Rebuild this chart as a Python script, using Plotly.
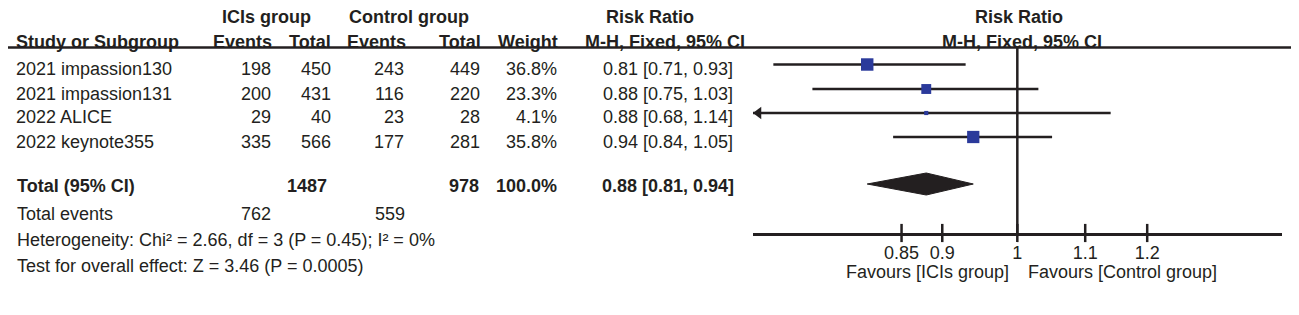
import math
import plotly.graph_objects as go

# ---------------- data ----------------
studies = ["2021 impassion130", "2021 impassion131", "2022 ALICE", "2022 keynote355"]
ici_events = [198, 200, 29, 335]
ici_total = [450, 431, 40, 566]
ctl_events = [243, 116, 23, 177]
ctl_total = [449, 220, 28, 281]
weights = [36.8, 23.3, 4.1, 35.8]
rr = [0.81, 0.88, 0.88, 0.94]
rr_lo = [0.71, 0.75, 0.68, 0.84]
rr_hi = [0.93, 1.03, 1.14, 1.05]

total_label = "Total (95% CI)"
total_ici_total = 1487
total_ctl_total = 978
total_weight = 100.0
total_rr, total_lo, total_hi = 0.88, 0.81, 0.94
events_label = "Total events"
total_ici_events = 762
total_ctl_events = 559
heterogeneity = "Heterogeneity: Chi² = 2.66, df = 3 (P = 0.45); I² = 0%"
overall = "Test for overall effect: Z = 3.46 (P = 0.0005)"

tick_vals = [0.85, 0.9, 1, 1.1, 1.2]
tick_labels = ["0.85", "0.9", "1", "1.1", "1.2"]
x_min, x_max = 0.69, 1.45
favours_left = "Favours [ICIs group]"
favours_right = "Favours [Control group]"

# ---------------- layout constants (page pixels) ----------------
PAGE_W, PAGE_H = 1299, 315
OX, OY = 8, 8                    # default body margin of the html page
W, H = PAGE_W - OX, PAGE_H - OY  # figure size
FONT = "Arial, Liberation Sans, Helvetica, sans-serif"
FS = 18
TXT = "#231f20"
BLUE = "#2b3a9b"
AXIS_Y = 233
HEAD_Y = 47.5
ROW_Y = [69, 93.5, 117.5, 141.5]
MARK_DY = -4.5
TOTAL_Y = 186
DIAMOND_Y = 184
EVENTS_Y = 214
HET_Y = 240
TEST_Y = 266
H1_Y = 17
H2_Y = 42
FAV_Y = 272
AX_LEFT, AX_RIGHT = 753, 1282
ARROW_SIZE = 11

fig = go.Figure()

mark_y = [y + MARK_DY for y in ROW_Y]
px_per_log = (AX_RIGHT - AX_LEFT) / (math.log10(x_max) - math.log10(x_min))
arrow_shift = 10 ** ((ARROW_SIZE / 2) / px_per_log)  # so the arrow tip sits at the axis end

# CI lines (clipped at axis range, arrow when clipped)
cx, cy = [], []
arrows_x, arrows_y = [], []
for lo, hi, y in zip(rr_lo, rr_hi, mark_y):
    a = max(lo, x_min)
    b = min(hi, x_max)
    cx += [a, b, None]
    cy += [y, y, None]
    if lo < x_min:
        arrows_x.append(x_min * arrow_shift)
        arrows_y.append(y)
fig.add_trace(go.Scatter(x=cx, y=cy, mode="lines",
                         line=dict(color=TXT, width=2.5), hoverinfo="skip",
                         cliponaxis=False))
if arrows_x:
    fig.add_trace(go.Scatter(x=arrows_x, y=arrows_y, mode="markers",
                             marker=dict(symbol="triangle-left", size=ARROW_SIZE,
                                         color=TXT, opacity=1),
                             cliponaxis=False, hoverinfo="skip"))

# vertical line of no effect
fig.add_trace(go.Scatter(x=[1, 1], y=[HEAD_Y, AXIS_Y], mode="lines",
                         line=dict(color=TXT, width=2.5), hoverinfo="skip",
                         cliponaxis=False))

# squares, size ~ sqrt(weight)
fig.add_trace(go.Scatter(x=rr, y=mark_y, mode="markers",
                         marker=dict(symbol="square",
                                     size=[2.05 * math.sqrt(w) for w in weights],
                                     color=BLUE, opacity=1, line=dict(width=0)),
                         hoverinfo="skip"))

# diamond
dh = 11
fig.add_trace(go.Scatter(x=[total_lo, total_rr, total_hi, total_rr, total_lo],
                         y=[DIAMOND_Y, DIAMOND_Y - dh, DIAMOND_Y, DIAMOND_Y + dh, DIAMOND_Y],
                         mode="lines", fill="toself", fillcolor=TXT,
                         line=dict(color=TXT, width=1), hoverinfo="skip"))

# tick marks crossing the axis line
fig.add_trace(go.Scatter(x=tick_vals, y=[AXIS_Y] * len(tick_vals), mode="markers",
                         marker=dict(symbol="line-ns", size=13, opacity=1,
                                     line=dict(color=TXT, width=2.5)),
                         cliponaxis=False, hoverinfo="skip"))

anns = []


def ann(text, px, py, anchor="left", bold=False, size=FS):
    if bold:
        text = "<b>" + text + "</b>"
    anns.append(dict(text=text, x=(px - OX) / W, y=1 - (py - OY) / H,
                     xref="paper", yref="paper",
                     xanchor=anchor, yanchor="middle", showarrow=False,
                     font=dict(family=FONT, size=size, color=TXT)))


# headers
ann("ICIs group", 266, H1_Y, "center", True)
ann("Control group", 409, H1_Y, "center", True)
ann("Risk Ratio", 650, H1_Y, "center", True)
ann("Risk Ratio", 1019, H1_Y, "center", True)
ann("Study or Subgroup", 14, H2_Y, "left", True)
ann("Events", 274, H2_Y, "right", True)
ann("Total", 333, H2_Y, "right", True)
ann("Events", 408, H2_Y, "right", True)
ann("Total", 483, H2_Y, "right", True)
ann("Weight", 560, H2_Y, "right", True)
ann("M-H, Fixed, 95% CI", 665, H2_Y, "center", True)
ann("M-H, Fixed, 95% CI", 1022, H2_Y, "center", True)

# study rows
for i, y in enumerate(ROW_Y):
    ann(studies[i], 14, y, "left")
    ann(str(ici_events[i]), 273, y, "right")
    ann(str(ici_total[i]), 333, y, "right")
    ann(str(ctl_events[i]), 406, y, "right")
    ann(str(ctl_total[i]), 482, y, "right")
    ann(f"{weights[i]:.1f}%", 559, y, "right")
    ann(f"{rr[i]:.2f} [{rr_lo[i]:.2f}, {rr_hi[i]:.2f}]", 735, y, "right")

# total rows
ann(total_label, 15, TOTAL_Y, "left", True)
ann(str(total_ici_total), 329, TOTAL_Y, "right", True)
ann(str(total_ctl_total), 481, TOTAL_Y, "right", True)
ann(f"{total_weight:.1f}%", 559, TOTAL_Y, "right", True)
ann(f"{total_rr:.2f} [{total_lo:.2f}, {total_hi:.2f}]", 736, TOTAL_Y, "right", True)
ann(events_label, 15, EVENTS_Y, "left")
ann(str(total_ici_events), 273, EVENTS_Y, "right")
ann(str(total_ctl_events), 407, EVENTS_Y, "right")
ann(heterogeneity, 15, HET_Y, "left")
ann(overall, 15, TEST_Y, "left")

# favours
ann(favours_left, 1011, FAV_Y, "right")
ann(favours_right, 1026, FAV_Y, "left")

shapes = [dict(type="line", xref="paper", yref="paper", x0=0, x1=1,
               y0=1 - (HEAD_Y - OY) / H, y1=1 - (HEAD_Y - OY) / H,
               line=dict(color=TXT, width=2.5))]

fig.update_layout(
    width=W, height=H,
    margin=dict(l=0, r=0, t=0, b=0),
    paper_bgcolor="white", plot_bgcolor="white",
    showlegend=False,
    annotations=anns,
    shapes=shapes,
    xaxis=dict(type="log", domain=[(AX_LEFT - OX) / W, (AX_RIGHT - OX) / W],
               range=[math.log10(x_min), math.log10(x_max)],
               showline=True, linecolor=TXT, linewidth=2.5,
               ticks="", tickvals=tick_vals, ticktext=tick_labels,
               ticklabelstandoff=2,
               tickfont=dict(family=FONT, size=FS, color=TXT),
               showgrid=False, zeroline=False, fixedrange=True),
    yaxis=dict(domain=[1 - (AXIS_Y - OY) / H, 1], range=[AXIS_Y, OY],
               visible=False, showgrid=False, zeroline=False, fixedrange=True),
)

fig.write_html("out.html")
